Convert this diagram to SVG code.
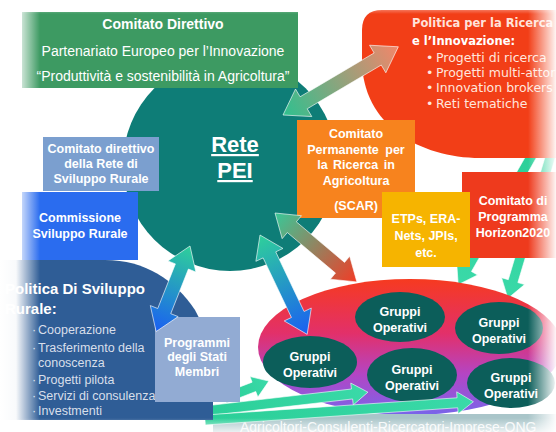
<svg xmlns="http://www.w3.org/2000/svg" width="556" height="432" viewBox="0 0 556 432">
<defs>
<style>
.t{font-family:"Liberation Sans",Arial,sans-serif;fill:#fff}
.b{font-weight:bold}
.c{text-anchor:middle}
.v{font-family:"DejaVu Sans",Verdana,sans-serif}
.arr{stroke:#fff;stroke-width:0.8;stroke-opacity:0.7}
.go{fill:#0c5e5a}
</style>
<linearGradient id="gA1" x1="0" y1="0" x2="1" y2="0"><stop offset="0" stop-color="#2fc08f"/><stop offset="1" stop-color="#f2866a"/></linearGradient>
<linearGradient id="gA2" x1="0" y1="0" x2="1" y2="0"><stop offset="0" stop-color="#38c898"/><stop offset="1" stop-color="#f23c26"/></linearGradient>
<linearGradient id="gBlue" x1="0" y1="0" x2="1" y2="0"><stop offset="0" stop-color="#2fd09a"/><stop offset="1" stop-color="#1a5ff2"/></linearGradient>
<linearGradient id="gGreen" x1="0" y1="0" x2="1" y2="0"><stop offset="0" stop-color="#2bcf98"/><stop offset="1" stop-color="#3ad9a8"/></linearGradient>
<linearGradient id="gPink" x1="0" y1="0" x2="0" y2="1"><stop offset="0" stop-color="#f63a20"/><stop offset="0.4" stop-color="#e2306a"/><stop offset="0.7" stop-color="#b445c4"/><stop offset="1" stop-color="#7865ea"/></linearGradient>
<linearGradient id="fL" x1="0" y1="0" x2="1" y2="0"><stop offset="0" stop-color="#fff" stop-opacity="1"/><stop offset="0.4" stop-color="#fff" stop-opacity="0.97"/><stop offset="1" stop-color="#fff" stop-opacity="0"/></linearGradient>
<linearGradient id="fR" x1="0" y1="0" x2="1" y2="0"><stop offset="0" stop-color="#fff" stop-opacity="0"/><stop offset="1" stop-color="#fff" stop-opacity="0.95"/></linearGradient>
<linearGradient id="fB" x1="0" y1="0" x2="0" y2="1"><stop offset="0" stop-color="#fff" stop-opacity="0"/><stop offset="1" stop-color="#fff" stop-opacity="0.75"/></linearGradient>
<linearGradient id="fT" x1="0" y1="0" x2="0" y2="1"><stop offset="0" stop-color="#fff" stop-opacity="1"/><stop offset="1" stop-color="#fff" stop-opacity="0"/></linearGradient>
</defs>
<rect width="556" height="432" fill="#fff"/>

<g id="connectors-back">
<path class="arr" fill="url(#gGreen)" transform="translate(535,150) rotate(119.7)" d="M0,-5 L137,-5 L137,-12 L155,0 L137,12 L137,5 L0,5 Z"/>
<path class="arr" fill="url(#gGreen)" transform="translate(553,148) rotate(106.7)" d="M0,-5 L139,-5 L139,-12 L157,0 L139,12 L139,5 L0,5 Z"/>
</g>

<g id="politica-ricerca">
<path d="M362,30 Q362,10 382,10 L556,10 L556,158 L480,158 C420,158 362,125 362,60 Z" fill="#f23e17"/>
<text class="v b" x="412" y="27" font-size="11.5" fill="#ffe2da">Politica per la Ricerca</text>
<text class="v b" x="412" y="45" font-size="11.5" fill="#fff">e l’Innovazione:</text>
<g class="v" font-size="12.5" fill="#ffe6de">
<text x="426" y="62">•</text><text x="436" y="62">Progetti di ricerca</text>
<text x="426" y="77">•</text><text x="436" y="77">Progetti multi-attori</text>
<text x="426" y="92">•</text><text x="436" y="92">Innovation brokers</text>
<text x="426" y="108">•</text><text x="436" y="108">Reti tematiche</text>
</g>
</g>

<g id="rete-pei">
<circle cx="230" cy="164" r="107" fill="#0e7d77"/>
<text class="t b c" x="235" y="152" font-size="22" text-decoration="underline">Rete</text>
<text class="t b c" x="235" y="178" font-size="22" text-decoration="underline">PEI</text>
</g>

<g id="comitato-direttivo">
<rect x="22" y="12" width="276" height="76" fill="#3d9a62"/>
<text class="t b c" x="163" y="29" font-size="14">Comitato Direttivo</text>
<text class="t c" x="163" y="56" font-size="14">Partenariato Europeo per l’Innovazione</text>
<text class="t c" x="163" y="81" font-size="14">“Produttività e sostenibilità in Agricoltura”</text>
</g>

<g id="connector-a1">
<path class="arr" fill="url(#gA1)" transform="translate(283,115) rotate(-30.6)" d="M0,0 L24,-16 L24,-7 L110,-7 L110,-16 L134,0 L110,16 L110,7 L24,7 L24,16 Z"/>
</g>

<g id="gruppi-area">
<ellipse cx="410" cy="347" rx="152" ry="68" fill="url(#gPink)"/>
</g>
<g id="go1"><ellipse class="go" cx="310" cy="362" rx="47" ry="26"/><text class="t b c" x="310" y="361" font-size="12.5">Gruppi</text><text class="t b c" x="310" y="377" font-size="12.5">Operativi</text></g>
<g id="go2"><ellipse class="go" cx="400" cy="317" rx="45" ry="25"/><text class="t b c" x="400" y="316" font-size="12.5">Gruppi</text><text class="t b c" x="400" y="332" font-size="12.5">Operativi</text></g>
<g id="go3"><ellipse class="go" cx="499" cy="328" rx="44" ry="26"/><text class="t b c" x="499" y="327" font-size="12.5">Gruppi</text><text class="t b c" x="499" y="343" font-size="12.5">Operativi</text></g>
<g id="go4"><ellipse class="go" cx="412" cy="375" rx="45" ry="27"/><text class="t b c" x="412" y="374" font-size="12.5">Gruppi</text><text class="t b c" x="412" y="390" font-size="12.5">Operativi</text></g>
<g id="go5"><ellipse class="go" cx="511" cy="383" rx="44" ry="25"/><text class="t b c" x="511" y="382" font-size="12.5">Gruppi</text><text class="t b c" x="511" y="398" font-size="12.5">Operativi</text></g>

<g id="attori">
<rect x="213" y="414" width="343" height="18" fill="#a9c5c9"/>
<text class="t" x="240" y="432" font-size="14" fill-opacity="0.9">Agricoltori-Consulenti-Ricercatori-Imprese-ONG</text>
</g>

<g id="connectors-bottom">
<path class="arr" fill="url(#gGreen)" transform="translate(225,398) rotate(-21.1)" d="M0,-5 L31,-5 L31,-11 L47,0 L31,11 L31,5 L0,5 Z"/>
<path class="arr" fill="url(#gGreen)" transform="translate(205,411) rotate(-6.6)" d="M0,-5 L148,-5 L148,-11 L164,0 L148,11 L148,5 L0,5 Z"/>
<path class="arr" fill="url(#gGreen)" transform="translate(205,420) rotate(-3.9)" d="M0,-5 L253,-5 L253,-11 L269,0 L253,11 L253,5 L0,5 Z"/>
</g>

<g id="politica-sviluppo">
<path d="M0,260 L105,260 C145,260 175,280 195,310 L213,345 L213,420 L0,420 Z" fill="#2f5d96"/>
<text class="t b" x="5" y="294" font-size="15">Politica Di Sviluppo</text>
<text class="t b" x="5" y="314" font-size="15">Rurale:</text>
<g font-family="Liberation Sans,Arial,sans-serif" font-size="12.5" fill="#d8dfea">
<text x="32" y="334">·</text><text x="38" y="334">Cooperazione</text>
<text x="32" y="352">·</text><text x="38" y="352">Trasferimento della</text>
<text x="38" y="367">conoscenza</text>
<text x="32" y="384">·</text><text x="38" y="384">Progetti pilota</text>
<text x="32" y="400">·</text><text x="38" y="400">Servizi di consulenza</text>
<text x="32" y="415">·</text><text x="38" y="415">Investmenti</text>
</g>
</g>

<g id="commissione">
<rect x="22" y="192" width="116" height="68" fill="#2a6cef"/>
<text class="t b c" x="80" y="222" font-size="12.5">Commissione</text>
<text class="t b c" x="80" y="238" font-size="12.5">Sviluppo Rurale</text>
</g>

<g id="comitato-rete">
<rect x="43" y="137" width="116" height="54" fill="#7b9fcf"/>
<text class="t b c" x="101" y="153" font-size="12.5">Comitato direttivo</text>
<text class="t b c" x="101" y="168" font-size="12.5">della Rete di</text>
<text class="t b c" x="101" y="183" font-size="12.5">Sviluppo Rurale</text>
</g>

<g id="programmi">
<rect x="155" y="317" width="85" height="85" fill="#92abd3"/>
<text class="t b c" x="197" y="347" font-size="12.5">Programmi</text>
<text class="t b c" x="197" y="361" font-size="12.5">degli Stati</text>
<text class="t b c" x="197" y="376" font-size="12.5">Membri</text>
</g>

<g id="scar">
<rect x="297" y="120" width="118" height="98" fill="#f7831e"/>
<text class="t b c" x="356" y="138" font-size="12.5">Comitato</text>
<text class="t b c" x="356" y="154" font-size="12.5" word-spacing="3">Permanente per</text>
<text class="t b c" x="356" y="169" font-size="12.5" word-spacing="2">la Ricerca in</text>
<text class="t b c" x="356" y="185" font-size="12.5">Agricoltura</text>
<text class="t b c" x="356" y="210" font-size="12.5">(SCAR)</text>
</g>

<g id="horizon">
<rect x="462" y="172" width="94" height="86" fill="#ee3a1d"/>
<text class="t b c" x="513" y="205" font-size="12.5">Comitato di</text>
<text class="t b c" x="513" y="221" font-size="12.5">Programma</text>
<text class="t b c" x="513" y="237" font-size="12.5">Horizon2020</text>
</g>

<g id="etps">
<rect x="382" y="192" width="88" height="75" fill="#f6b400"/>
<text class="t b c" x="426" y="223" font-size="12.5">ETPs, ERA-</text>
<text class="t b c" x="426" y="240" font-size="12.5">Nets, JPIs,</text>
<text class="t b c" x="426" y="257" font-size="12.5">etc.</text>
</g>

<g id="connectors">
<path class="arr" fill="url(#gA2)" transform="translate(275,213) rotate(40.1)" d="M0,0 L22,-15 L22,-7 L85,-7 L85,-15 L107,0 L85,15 L85,7 L22,7 L22,15 Z"/>
<path class="arr" fill="url(#gBlue)" transform="translate(260,235) rotate(64.6)" d="M0,0 L22,-15 L22,-7 L88,-7 L88,-15 L110,0 L88,15 L88,7 L22,7 L22,15 Z"/>
<path class="arr" fill="url(#gBlue)" transform="translate(190,246) rotate(111.6)" d="M0,0 L22,-15 L22,-7 L70,-7 L70,-15 L92,0 L70,15 L70,7 L22,7 L22,15 Z"/>
</g>

<g id="vignette">
<rect x="0" y="0" width="40" height="432" fill="url(#fL)"/>
<rect x="528" y="0" width="28" height="432" fill="url(#fR)"/>
<rect x="0" y="418" width="556" height="14" fill="url(#fB)"/>
<rect x="0" y="0" width="556" height="14" fill="url(#fT)"/>
</g>
</svg>
